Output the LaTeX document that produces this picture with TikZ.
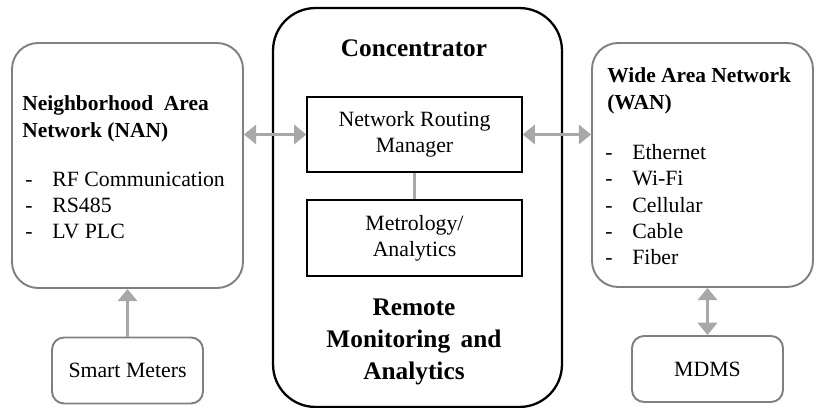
\documentclass[tikz,border=0pt]{standalone}
\usepackage{fontspec}
\setmainfont{Liberation Serif}
\usetikzlibrary{arrows.meta}

\definecolor{boxgray}{HTML}{808080}
\definecolor{arrowgray}{HTML}{A8A8A8}

\newcommand{\dashitem}[1]{\makebox[0.54cm][l]{-}#1}

\tikzset{
  netbox/.style={draw=boxgray, line width=1.1pt, rounded corners=0.52cm},
  concbox/.style={draw=black, line width=1.3pt, rounded corners=0.85cm},
  innerbox/.style={draw=black, line width=0.8pt, minimum width=4.3cm, align=center, inner sep=0pt},
  endbox/.style={draw=boxgray, line width=1.1pt, rounded corners=0.24cm, minimum width=3.02cm, minimum height=1.32cm},
  titletext/.style={font=\fontsize{12.2}{15.6}\selectfont\bfseries, align=left, inner sep=0pt},
  bigtitle/.style={font=\fontsize{14.4}{18.4}\selectfont\bfseries, align=center, inner sep=0pt},
  listtext/.style={align=left, inner sep=0pt},
  link/.style={draw=arrowgray, line width=1.7pt, >={Triangle[length=7pt,width=11pt]}}
}

\begin{document}
\begin{tikzpicture}[x=0.02cm, y=-0.02cm, font=\fontsize{12.4}{15}\selectfont]
  \useasboundingbox (0,0) rectangle (816,408);

  % outer boxes
  \node[netbox, minimum width=4.62cm, minimum height=4.9cm] (nan) at (127.5,165.5) {};
  \node[concbox, minimum width=5.78cm, minimum height=7.98cm] (conc) at (417.5,207.5) {};
  \node[netbox, minimum width=4.42cm, minimum height=4.88cm] (wan) at (702.5,165) {};

  % inside the concentrator
  \node[innerbox, minimum height=1.5cm] (nrm) at (414.5,134.5) {Network Routing\\Manager};
  \node[innerbox, minimum height=1.52cm] (metro) at (414.5,238) {Metrology/\\Analytics};
  \node[bigtitle, anchor=base] (conctitle) at (414,57) {Concentrator};
  \node[bigtitle, anchor=base] (remote) at (414,380) {Remote\\Monitoring\hspace{6pt}and\\Analytics};

  % network texts (base = last line)
  \node[titletext, anchor=base west] (nantitle) at (22,138) {Neighborhood\hspace{6pt}Area\\Network (NAN)};
  \node[listtext, anchor=base west] (nanlist) at (25,239)
    {\dashitem{RF Communication}\\\dashitem{RS485}\\\dashitem{LV PLC}};
  \node[titletext, anchor=base west] (wantitle) at (607,110) {Wide Area Network\\(WAN)};
  \node[listtext, anchor=base west] (wanlist) at (605,265)
    {\dashitem{Ethernet}\\\dashitem{Wi-Fi}\\\dashitem{Cellular}\\\dashitem{Cable}\\\dashitem{Fiber}};

  % end devices
  \node[endbox] (meters) at (127.5,370.5) {Smart Meters};
  \node[endbox] (mdms) at (707.5,369) {MDMS};

  % connectors
  \draw[link] (nrm) -- (metro);
  \draw[link, <->] (nan.east |- nrm.west) -- (nrm.west);
  \draw[link, <->] (nrm.east) -- (nrm.east -| wan.west);
  \draw[link, ->] (meters.north) -- (meters.north |- nan.south);
  \draw[link, <->] (mdms.north) -- (mdms.north |- wan.south);
\end{tikzpicture}
\end{document}
